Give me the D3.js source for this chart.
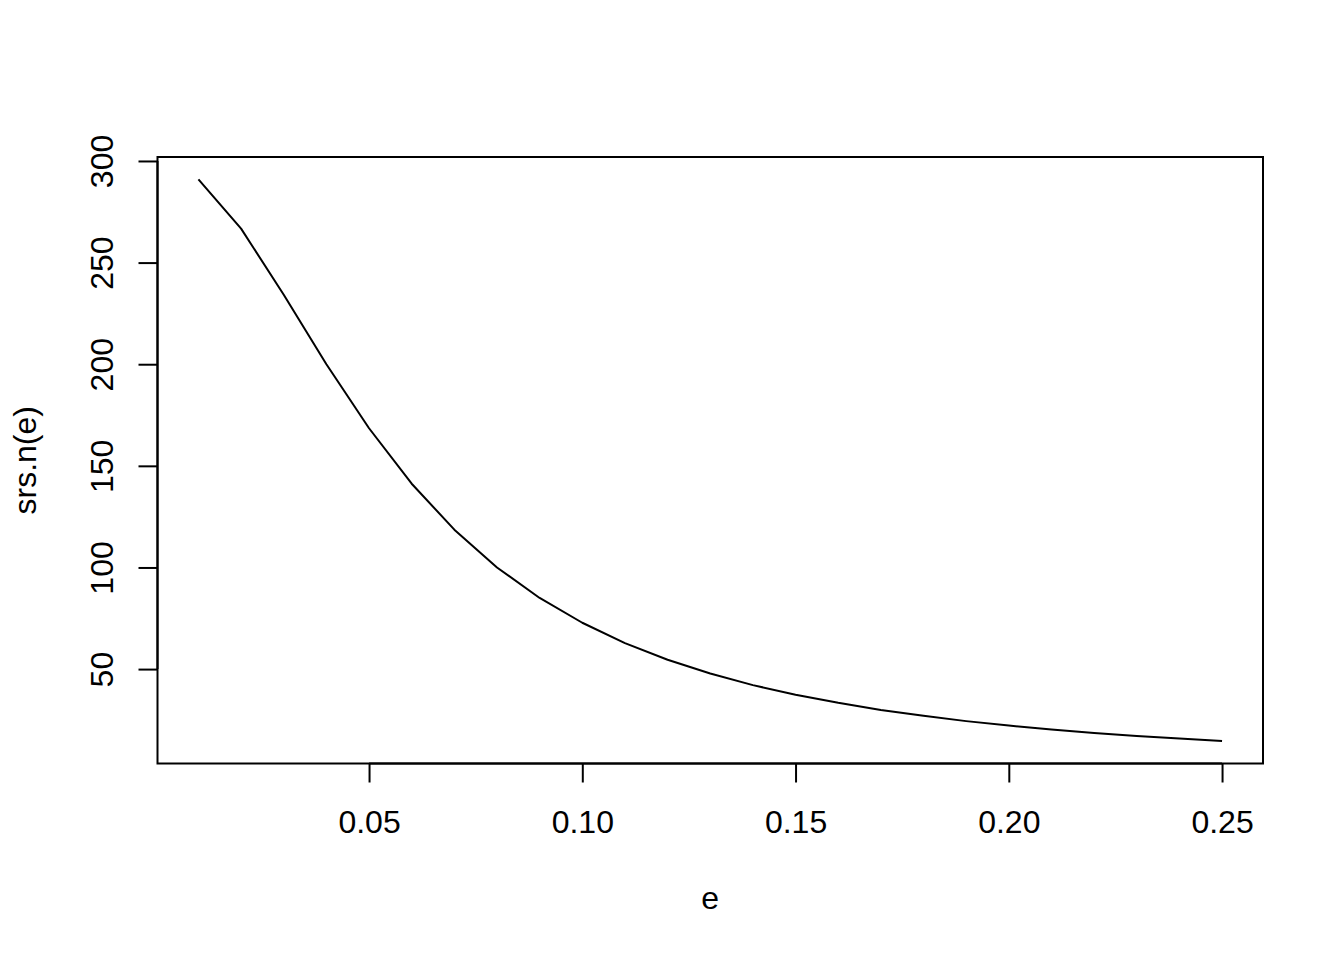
<!DOCTYPE html>
<html>
<head>
<meta charset="utf-8">
<script src="https://cdn.jsdelivr.net/npm/d3@7"></script>
<style>
  html, body { margin: 0; padding: 0; background: #fff; }
  svg text { font-family: "Liberation Sans", Arial, sans-serif; fill: #000; }
</style>
</head>
<body>
<svg id="chart" width="1344" height="960"></svg>
<script>
// Data
const eValues = [0.01,0.02,0.03,0.04,0.05,0.06,0.07,0.08,0.09,0.10,0.11,0.12,0.13,0.14,0.15,0.16,0.17,0.18,0.19,0.20,0.21,0.22,0.23,0.24,0.25];
const nValues = [290.9,266.7,234.2,200.0,168.5,141.2,118.6,100.0,85.0,72.8,62.8,54.6,47.8,42.1,37.4,33.4,29.9,27.0,24.4,22.2,20.3,18.6,17.1,15.8,14.6];
const xTicks = [0.05,0.10,0.15,0.20,0.25];
const xTickLabels = ["0.05","0.10","0.15","0.20","0.25"];
const yTicks = [50,100,150,200,250,300];
const yTickLabels = ["50","100","150","200","250","300"];
const xLabel = "e";
const yLabel = "srs.n(e)";

const svg = d3.select("#chart");
const pLeft = 157.5, pRight = 1263, pTop = 157, pBottom = 763.5;

function ext(arr) {
  const [a, b] = d3.extent(arr);
  const d = (b - a) * 0.04;
  return [a - d, b + d];
}

const x = d3.scaleLinear().domain(ext(eValues)).range([pLeft, pRight]);
const y = d3.scaleLinear().domain(ext(nValues)).range([pBottom, pTop]);

const pts = eValues.map((e, i) => [e, nValues[i]]);
const line = d3.line().x(d => x(d[0])).y(d => y(d[1]));

svg.append("path")
  .datum(pts)
  .attr("d", line)
  .attr("fill", "none")
  .attr("stroke", "#000")
  .attr("stroke-width", 2)
  .attr("stroke-linejoin", "round");

// box
svg.append("rect")
  .attr("x", pLeft).attr("y", pTop)
  .attr("width", pRight - pLeft).attr("height", pBottom - pTop)
  .attr("fill", "none").attr("stroke", "#000").attr("stroke-width", 2);

// x axis
const xAxis = d3.axisBottom(x).tickValues(xTicks)
  .tickFormat((d, i) => xTickLabels[i]).tickSize(19).tickPadding(0);
const gx = svg.append("g").attr("transform", `translate(0,${pBottom})`).call(xAxis);
gx.select(".domain").attr("d", `M${x(xTicks[0])},0H${x(xTicks[xTicks.length-1])}`)
  .attr("stroke", "#000").attr("stroke-width", 2);
gx.selectAll(".tick line").attr("stroke", "#000").attr("stroke-width", 2);
gx.selectAll(".tick text")
  .attr("font-size", 32).attr("font-family", "Liberation Sans, Arial, sans-serif")
  .attr("y", 833 - pBottom).attr("dy", 0).attr("fill", "#000");

// y axis
const yAxis = d3.axisLeft(y).tickValues(yTicks)
  .tickFormat((d, i) => yTickLabels[i]).tickSize(19).tickPadding(0);
const gy = svg.append("g").attr("transform", `translate(${pLeft},0)`).call(yAxis);
gy.select(".domain").attr("d", `M0,${y(yTicks[0])}V${y(yTicks[yTicks.length-1])}`)
  .attr("stroke", "#000").attr("stroke-width", 2);
gy.selectAll(".tick line").attr("stroke", "#000").attr("stroke-width", 2);
gy.selectAll(".tick text")
  .attr("font-size", 32).attr("font-family", "Liberation Sans, Arial, sans-serif")
  .attr("x", 0).attr("dy", 0).attr("text-anchor", "middle")
  .attr("transform", `translate(${113 - pLeft},0) rotate(-90)`)
  .attr("fill", "#000");

// axis titles
svg.append("text")
  .attr("x", (pLeft + pRight) / 2).attr("y", 909)
  .attr("text-anchor", "middle").attr("font-size", 32)
  .text(xLabel);

svg.append("text")
  .attr("transform", `translate(35.5,${(pTop + pBottom) / 2}) rotate(-90)`)
  .attr("text-anchor", "middle").attr("font-size", 32)
  .text(yLabel);
</script>
</body>
</html>
